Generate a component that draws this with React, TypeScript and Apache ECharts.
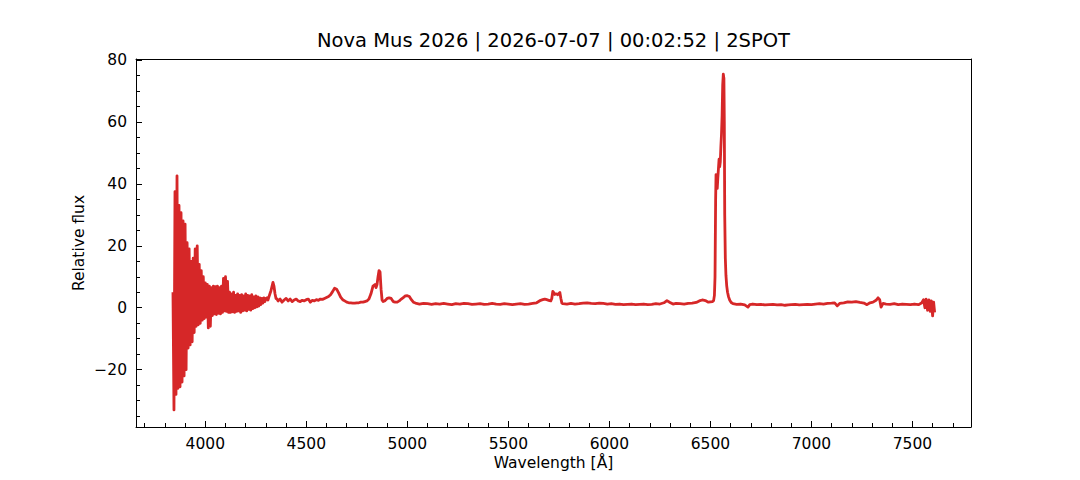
import React, { useEffect, useRef } from "react";
import * as echarts from "echarts";

const TITLE = "Nova Mus 2026 | 2026-07-07 | 00:02:52 | 2SPOT";
const X_NAME = "Wavelength [Å]";
const Y_NAME = "Relative flux";
const X_MIN = 3657;
const X_MAX = 7790;
const Y_MIN = -38.5;
const Y_MAX = 80.3;

// Blue, noisy end of the spectrum: flux sampled every 5 Å from 3840 Å
const blueStart = 3840;
const blueStep = 5;
const blueFlux = [
  5, -33, 37.5, -28, 42.6, -26, 33, -25.5, 30.7, -24,
  28, -22, 27, -20, 21, -13, 19, -12, 15, -11,
  16, -8, 19, -6, 20, -5.5, 14, -5, 12, -4,
  10, -3.5, 8, -3, 7.5, -6.5, 7, -6, 6.5, -2.5,
  7, -2, 6.8, -2.2, 7, -1.8, 6.5, -2, 7, -1.5,
  9.5, -1, 10, -1.2, 8.5, -1.5, 5, -1.5, 4.5, -1.3,
  5, -1.5, 4, -1.2, 4.5, -1, 4, -1.5, 4.2, -1,
  3.8, -0.8, 4.5, -1, 4, -0.5, 3.8, -0.8, 4.2, -0.3,
  3.5, 0, 3.8, 0.3, 3.5, 0.5, 3.2, 1, 3, 1.5,
  3.2, 2, 3,
];

// Hgamma to [O III] region: [wavelength Å, flux]
const midSpectrum = [
  [4305, 3.2], [4310, 2.5], [4315, 3.5], [4320, 4.5], [4325, 5.5], [4330, 6.8],
  [4335, 8.2], [4340, 7], [4345, 4.5], [4350, 3], [4355, 2.8], [4360, 2.2],
  [4370, 2.8], [4380, 1.8], [4390, 2.5], [4400, 3], [4410, 2.2], [4420, 2.8],
  [4430, 2], [4440, 2.5], [4450, 2.8], [4460, 2.2], [4470, 2], [4480, 2.4],
  [4490, 2.2], [4500, 2.6], [4510, 2.8], [4520, 1.8], [4530, 2.4], [4540, 2.2],
  [4550, 2.6], [4560, 2.4], [4570, 2.8], [4580, 2.7], [4590, 3], [4600, 3.3],
  [4610, 3.6], [4620, 4.2], [4630, 5.2], [4640, 6.3], [4650, 6], [4660, 4.8],
  [4670, 3.4], [4680, 2.6], [4690, 2.2], [4700, 1.8], [4710, 1.6], [4720, 1.6],
  [4730, 1.5], [4740, 1.5], [4750, 1.6], [4760, 1.6], [4770, 1.8], [4780, 1.8],
  [4790, 2], [4800, 2.2], [4810, 2.8], [4820, 4.5], [4830, 7], [4840, 7.5],
  [4845, 6.5], [4850, 7.5], [4855, 10], [4860, 12], [4865, 11.5], [4870, 6],
  [4875, 2.5], [4880, 2], [4890, 2.3], [4900, 3], [4910, 3.2], [4920, 3],
  [4930, 2], [4940, 1.8], [4950, 1.8], [4960, 2.2], [4970, 2.8], [4980, 3.3],
  [4990, 3.8], [5000, 3.9], [5010, 3.6], [5020, 2.6], [5030, 1.8], [5040, 1.5],
];

// Continuum to the Halpha wing: [wavelength Å, flux]
const greenSpectrum = [
  [5060, 1.2], [5080, 1.4], [5100, 1.3], [5120, 1.1], [5140, 1.3], [5160, 1.2],
  [5180, 1.4], [5200, 1.2], [5220, 1.0], [5240, 1.3], [5260, 1.2], [5280, 1.4],
  [5300, 1.3], [5320, 1.1], [5340, 1.2], [5360, 1.3], [5380, 1.1], [5400, 1.2],
  [5420, 1.4], [5440, 1.2], [5460, 1.1], [5480, 1.3], [5500, 1.2], [5520, 1.0],
  [5540, 1.2], [5560, 1.3], [5580, 1.1], [5600, 1.2], [5620, 1.4], [5640, 1.6],
  [5650, 2], [5660, 2.4], [5670, 2.6], [5680, 2.8], [5690, 2.6], [5700, 2.4],
  [5710, 2.2], [5715, 3], [5720, 5.3], [5725, 4.8], [5730, 4.3], [5735, 4.5],
  [5740, 4.4], [5745, 4.2], [5750, 4.6], [5755, 4.9], [5760, 3], [5765, 1.5],
  [5770, 1.3], [5790, 1.2], [5810, 1.4], [5830, 1.2], [5850, 1.3], [5870, 1.5],
  [5890, 1.6], [5910, 1.4], [5930, 1.3], [5950, 1.5], [5970, 1.4], [5990, 1.2],
  [6010, 1.3], [6030, 1.1], [6050, 1.2], [6070, 1.0], [6090, 1.1], [6110, 1.2],
  [6130, 1.0], [6150, 1.1], [6170, 1.2], [6190, 1.0], [6210, 1.1], [6230, 1.3],
  [6250, 1.2], [6270, 1.6], [6285, 2.3], [6300, 1.7], [6315, 1.2], [6330, 1.4],
  [6350, 1.3], [6370, 1.2], [6390, 1.4], [6410, 1.5], [6430, 1.7], [6445, 2.2],
  [6460, 2.5], [6475, 2.3], [6490, 1.8], [6500, 1.9], [6510, 2.0],
];

// Halpha emission line: [wavelength Å, flux]
const halphaSpectrum = [
  [6516, 2.3], [6520, 4], [6523, 10], [6526, 35], [6528, 43], [6531, 40],
  [6534, 38.5], [6537, 42], [6540, 45], [6543, 48], [6546, 45.5], [6549, 47],
  [6552, 52], [6555, 56], [6558, 62], [6561, 72], [6564, 75.4], [6567, 74],
  [6569, 60], [6571, 30], [6574, 16], [6577, 10.5], [6581, 7], [6585, 5],
  [6590, 3.5], [6596, 2.4], [6603, 1.7],
];

// Red end of the spectrum: [wavelength Å, flux]
const redSpectrum = [
  [6612, 1.3], [6630, 1.1], [6650, 1.2], [6670, 0.9], [6686, 0.2], [6695, 1.0],
  [6710, 1.2], [6730, 1.0], [6750, 1.1], [6770, 0.9], [6790, 1.0], [6810, 1.1],
  [6830, 0.9], [6850, 1.0], [6870, 0.8], [6885, 0.9], [6900, 1.0], [6920, 1.1],
  [6940, 0.9], [6960, 1.0], [6980, 1.1], [7000, 1.0], [7020, 1.2], [7040, 1.3],
  [7060, 1.2], [7080, 1.4], [7100, 1.5], [7115, 1.6], [7128, 0.6], [7140, 1.4],
  [7160, 1.6], [7180, 1.9], [7200, 1.8], [7220, 2.0], [7240, 1.7], [7260, 1.5],
  [7275, 1.0], [7290, 1.6], [7305, 1.8], [7320, 2.4], [7330, 3.2], [7338, 2.6],
  [7345, 0.2], [7355, 1.4], [7370, 1.2], [7390, 1.1], [7410, 1.3], [7430, 1.0],
  [7450, 1.2], [7470, 1.1], [7490, 1.0], [7510, 1.2], [7530, 1.0], [7545, 1.5],
  [7555, 2.6], [7562, 0.0], [7568, 2.8], [7575, -0.8], [7582, 2.5], [7588, -1.2],
  [7594, 2.2], [7600, -2.6], [7605, 1.8], [7610, -1.5],
];

const FONT = "DejaVu Sans";
const LINE_COLOR = "#d62728";

function buildData(): number[][] {
  const blue = blueFlux.map((f, i) => [blueStart + i * blueStep, f]);
  return [...blue, ...midSpectrum, ...greenSpectrum, ...halphaSpectrum, ...redSpectrum];
}

const fmtX = (v: number) => String(v);
const fmtY = (v: number) => (v < 0 ? "\u2212" + Math.abs(v) : String(v));

const GRID = { left: 136, right: 109, top: 59, bottom: 53 };

export default function App() {
  const ref = useRef<HTMLDivElement>(null);

  useEffect(() => {
    document.body.style.margin = "0";
    if (!ref.current) return;
    const chart = echarts.init(ref.current, undefined, { renderer: "svg" });

    const axisLine = { show: true, onZero: false, lineStyle: { color: "#000", width: 1 } };
    const labelStyle = { fontSize: 15.5, color: "#000", fontFamily: FONT };
    const tickStyle = { color: "#000", width: 1 };
    const noExtras = { splitLine: { show: false }, minorSplitLine: { show: false } };

    chart.setOption({
      animation: false,
      backgroundColor: "#fff",
      textStyle: { fontFamily: FONT },
      grid: { ...GRID, containLabel: false },
      graphic: [
        {
          type: "text",
          x: 553.5,
          y: 40.6,
          style: {
            text: TITLE,
            fontSize: 19.5,
            fontFamily: FONT,
            fill: "#000",
            textAlign: "center",
            textVerticalAlign: "middle",
          },
        },
      ],
      xAxis: [
        {
          type: "value",
          position: "bottom",
          min: X_MIN,
          max: X_MAX,
          splitNumber: 8,
          name: X_NAME,
          nameLocation: "middle",
          nameGap: 28,
          nameMoveOverlap: false,
          nameTextStyle: labelStyle,
          axisLine,
          axisTick: { show: true, inside: true, length: 6, lineStyle: tickStyle },
          minorTick: { show: true, splitNumber: 5, length: 4, lineStyle: tickStyle },
          axisLabel: { ...labelStyle, margin: 9, showMinLabel: false, showMaxLabel: false, formatter: fmtX },
          ...noExtras,
        },
        {
          type: "value",
          position: "top",
          min: X_MIN,
          max: X_MAX,
          axisLine,
          axisTick: { show: false },
          axisLabel: { show: false },
          ...noExtras,
        },
      ],
      yAxis: [
        {
          type: "value",
          position: "left",
          min: Y_MIN,
          max: Y_MAX,
          splitNumber: 6,
          name: Y_NAME,
          nameLocation: "middle",
          nameGap: 49,
          nameMoveOverlap: false,
          nameTextStyle: labelStyle,
          axisLine,
          axisTick: { show: true, inside: true, length: 6, lineStyle: tickStyle },
          minorTick: { show: true, splitNumber: 4, length: 4, lineStyle: tickStyle },
          axisLabel: { ...labelStyle, margin: 9, showMinLabel: false, showMaxLabel: false, formatter: fmtY },
          ...noExtras,
        },
        {
          type: "value",
          position: "right",
          min: Y_MIN,
          max: Y_MAX,
          axisLine,
          axisTick: { show: false },
          axisLabel: { show: false },
          ...noExtras,
        },
      ],
      series: [
        {
          type: "line",
          xAxisIndex: 0,
          yAxisIndex: 0,
          data: buildData(),
          showSymbol: false,
          symbol: "none",
          silent: true,
          lineStyle: { color: LINE_COLOR, width: 2.8, join: "round" },
        },
      ],
    });

    return () => chart.dispose();
  }, []);

  return <div ref={ref} style={{ width: 1080, height: 480 }} />;
}
